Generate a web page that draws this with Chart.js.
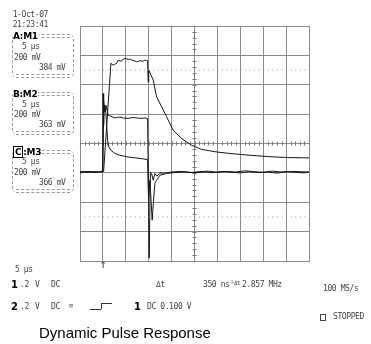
<!DOCTYPE html>
<html><head><meta charset="utf-8">
<script src="https://cdn.jsdelivr.net/npm/chart.js@4.4.0/dist/chart.umd.min.js"></script>
<style>
html,body{margin:0;padding:0;background:#fff;}
#wrap{position:relative;width:371px;height:344px;overflow:hidden;}
canvas{position:absolute;left:0;top:0;}
.t{position:absolute;font-family:"DejaVu Sans Mono",monospace;font-size:8px;line-height:8px;color:#444;white-space:pre;letter-spacing:-0.4px;}
.b{position:absolute;font-family:"DejaVu Sans",sans-serif;font-weight:bold;color:#000;font-size:10px;line-height:10px;white-space:pre;}
.box{position:absolute;border-left:1px dashed #999;border-right:1px dashed #999;border-radius:4px;}
.dbl{position:absolute;left:3px;right:3px;height:2px;border-top:1px dashed #999;border-bottom:1px dashed #999;}
.lab{position:absolute;left:0px;top:-4px;background:#fff;font-family:"DejaVu Sans",sans-serif;font-weight:bold;font-size:9px;line-height:10px;color:#000;padding-right:1px;letter-spacing:-0.3px;}
#title{position:absolute;left:39px;top:325px;font-family:"Liberation Sans",Arial,sans-serif;font-size:15px;line-height:15px;color:#000;white-space:pre;}
</style></head>
<body><div id="wrap">
<canvas id="c" width="371" height="344"></canvas>

<div class="t" style="right:323px;top:11px;">1-Oct-07</div>
<div class="t" style="right:323px;top:21px;">21:23:41</div>

<div class="box" style="left:12px;top:35px;width:60px;height:42px;">
  <div class="dbl" style="top:-1px;"></div><div class="dbl" style="bottom:-1px;"></div>
  <div class="lab">A:M1</div>
</div>
<div class="t" style="left:22px;top:43px;">5 µs</div>
<div class="t" style="left:14px;top:53.5px;">200 mV</div>
<div class="t" style="left:39px;top:63.5px;">384 mV</div>

<div class="box" style="left:12px;top:93px;width:60px;height:41px;">
  <div class="dbl" style="top:-1px;"></div><div class="dbl" style="bottom:-1px;"></div>
  <div class="lab">B:M2</div>
</div>
<div class="t" style="left:22px;top:100.5px;">5 µs</div>
<div class="t" style="left:14px;top:111px;">200 mV</div>
<div class="t" style="left:39px;top:121px;">363 mV</div>

<div class="box" style="left:12px;top:151px;width:60px;height:41px;">
  <div class="dbl" style="top:-1px;"></div><div class="dbl" style="bottom:-1px;"></div>
  <div class="lab"><span style="border:1px solid #000;padding:0 1px;">C</span>:M3</div>
</div>
<div class="t" style="left:22px;top:158px;">5 µs</div>
<div class="t" style="left:14px;top:169px;">200 mV</div>
<div class="t" style="left:39px;top:179px;">366 mV</div>

<div class="t" style="left:99.5px;top:258px;font-size:12px;line-height:12px;">↑</div>

<div class="t" style="left:15px;top:266px;">5 µs</div>
<div class="b" style="left:11px;top:280px;">1</div>
<div class="t" style="left:20px;top:281px;">.2</div>
<div class="t" style="left:35px;top:281px;">V</div>
<div class="t" style="left:51px;top:281px;">DC</div>
<div class="t" style="left:156px;top:281px;">Δt</div>
<div class="t" style="left:203px;top:281px;">350 ns</div>
<div class="t" style="left:231px;top:280px;font-size:6px;line-height:6px;letter-spacing:-0.6px;">⅟Δt</div>
<div class="t" style="left:242px;top:281px;">2.857 MHz</div>
<div class="t" style="left:323px;top:285px;">100 MS/s</div>

<div class="b" style="left:11px;top:302px;">2</div>
<div class="t" style="left:20px;top:303px;">.2</div>
<div class="t" style="left:35px;top:303px;">V</div>
<div class="t" style="left:51px;top:303px;">DC</div>
<div class="t" style="left:69px;top:302px;font-size:7px;">≋</div>
<div style="position:absolute;left:90px;top:309px;width:11px;height:0;border-top:1px solid #333;"></div>
<div style="position:absolute;left:101px;top:303px;width:0;height:6px;border-left:1px solid #333;"></div>
<div style="position:absolute;left:101px;top:303px;width:11px;height:0;border-top:1px solid #333;"></div>
<div class="b" style="left:134px;top:302px;">1</div>
<div class="t" style="left:147px;top:303px;">DC 0.100 V</div>

<div style="position:absolute;left:320px;top:314px;width:4px;height:5px;border:1px solid #444;"></div>
<div class="t" style="left:333px;top:313px;">STOPPED</div>

<div id="title">Dynamic Pulse Response</div>
</div>
<script>
// time in µs (trigger at 0), vertical in divisions (center = 0)
const t1 = [-5,-4,-3,-2,-1,-0.5,0.15,1.75,2.18,2.6,2.99,3.34,3.93,4.4,4.8,5.2,5.52,6.0,6.33,6.8,7.36,7.8,8.3,8.7,9.17,9.5,9.76,9.89,10.0,10.98,11.72,12.82,13.91,15.35,17.18,19.37,21.55,24.45,27.73,32.1,36.5,40.8,45];
const v1 = [-0.97,-0.95,-0.98,-0.96,-0.97,-0.95,-0.96,2.73,2.67,2.70,2.73,2.84,2.80,2.86,2.90,2.88,2.86,2.87,2.84,2.82,2.78,2.80,2.82,2.80,2.84,2.83,2.82,2.09,2.50,2.16,1.59,1.25,0.91,0.45,0.17,-0.06,-0.20,-0.28,-0.34,-0.40,-0.45,-0.48,-0.49];

const t2 = [-5,-4.5,-3.5,-2.5,-1.5,-0.5,-0.07,0.04,0.11,0.22,0.44,0.66,1.16,1.75,2.2,2.62,3.2,3.71,4.5,5.52,6.2,6.99,7.8,8.52,9.2,9.76,10.11,10.37,10.63,10.98,11.35,11.79,12.45,13.91,15,17,19,21,23,25,27,29,31,33,35,37,39,41,43,45];
const v2 = [-0.98,-0.96,-0.99,-0.95,-0.98,-0.96,-0.94,1.70,0.62,1.48,1.08,1.30,0.96,0.93,0.90,0.87,0.89,0.90,0.87,0.85,0.88,0.88,0.86,0.86,0.87,0.85,-3.90,-0.98,-1.02,-1.25,-1.02,-1.11,-1.01,-1.00,-0.97,-0.95,-0.99,-0.96,-0.94,-0.98,-0.95,-0.97,-0.93,-0.96,-0.98,-0.94,-0.97,-0.95,-0.96,-0.97];

const t3 = [-5,-4,-3,-2,-1,-0.3,0.0,0.11,0.33,0.66,1.03,1.31,1.75,2.62,3.71,4.6,5.52,6.6,7.64,8.7,9.76,9.98,10.26,10.76,11.14,11.35,11.72,12.45,13.91,15.72,18,20,22,24,26,28,30,32,34,36,38,40,42,44,45];
const v3 = [-1.00,-0.97,-0.95,-0.99,-0.96,-0.98,-0.95,0.45,1.31,1.02,0.11,-0.12,-0.23,-0.34,-0.40,-0.43,-0.46,-0.48,-0.50,-0.52,-0.55,-1.94,-1.25,-2.61,-1.76,-1.36,-1.25,-1.08,-1.02,-0.99,-0.96,-1.00,-0.97,-0.99,-0.95,-0.98,-1.00,-0.96,-0.99,-0.97,-1.01,-0.96,-0.98,-1.00,-0.97];

const dottedLevels = [2.5, -2.5];
const xRange = [-5, 45];
const yRange = [-4, 4];

const pts = (ts, vs) => ts.map((t, i) => ({x: t, y: vs[i]}));
const trace = (ts, vs) => ({data: pts(ts, vs), borderColor: '#151515', borderWidth: 1, pointRadius: 0, tension: 0, fill: false});
const dotted = lv => ({data: [{x: xRange[0], y: lv}, {x: xRange[1], y: lv}], borderColor: '#9a9a9a', borderWidth: 1, borderDash: [1, 3.58], pointRadius: 0, fill: false});

const centerTicks = {
  id: 'centerTicks',
  beforeDatasetsDraw(chart) {
    const ctx = chart.ctx, xs = chart.scales.x, ys = chart.scales.y;
    const cx = xs.getPixelForValue(20), cy = ys.getPixelForValue(0);
    ctx.save();
    ctx.strokeStyle = '#777';
    ctx.lineWidth = 1;
    ctx.beginPath();
    for (let t = xRange[0]; t <= xRange[1]; t += 1) {
      const px = Math.round(xs.getPixelForValue(t)) + 0.5;
      ctx.moveTo(px, cy - 2); ctx.lineTo(px, cy + 2);
    }
    for (let v = yRange[0]; v <= yRange[1] + 1e-9; v += 0.2) {
      const py = Math.round(ys.getPixelForValue(v)) + 0.5;
      ctx.moveTo(cx - 2, py); ctx.lineTo(cx + 2, py);
    }
    ctx.stroke();
    ctx.restore();
  }
};

new Chart(document.getElementById('c'), {
  type: 'line',
  data: {datasets: [dotted(dottedLevels[0]), dotted(dottedLevels[1]), trace(t1, v1), trace(t2, v2), trace(t3, v3)]},
  options: {
    responsive: false, animation: false, devicePixelRatio: 1,
    layout: {padding: {left: 80, top: 26, right: 62, bottom: 83}},
    plugins: {legend: {display: false}, tooltip: {enabled: false}},
    scales: {
      x: {type: 'linear', min: xRange[0], max: xRange[1], ticks: {display: false, stepSize: 5}, grid: {color: '#8a8a8a', drawTicks: false, tickLength: 0}, border: {color: '#8a8a8a'}},
      y: {type: 'linear', min: yRange[0], max: yRange[1], ticks: {display: false, stepSize: 1}, grid: {color: '#8a8a8a', drawTicks: false, tickLength: 0}, border: {color: '#8a8a8a'}}
    }
  },
  plugins: [centerTicks]
});
</script>
</body></html>
